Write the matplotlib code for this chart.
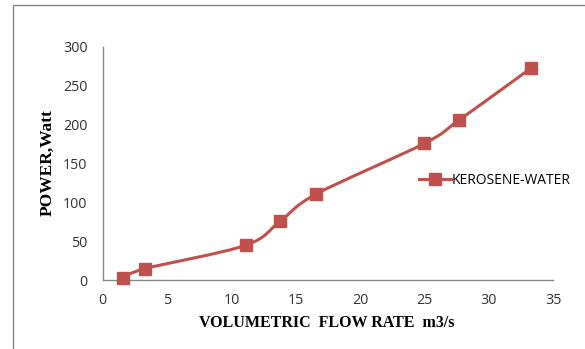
import matplotlib
matplotlib.use("Agg")
import matplotlib.pyplot as plt
import numpy as np
from matplotlib.lines import Line2D
from matplotlib.patches import PathPatch, Rectangle
from matplotlib.path import Path

# measured flow rate vs. pump power
flow_rate = [1.6, 3.3, 11.1, 13.8, 16.6, 25.0, 27.7, 33.3]
power = [3, 15, 45, 76, 111, 176, 206, 273]
series_name = "KEROSENE-WATER"

x_ticks = [0, 5, 10, 15, 20, 25, 30, 35]
y_ticks = [0, 50, 100, 150, 200, 250, 300]

RED = "#C0504D"
AXIS_GREY = "#868686"
TICK_FONT = "Open Sans"
TITLE_FONT = "Liberation Serif"


def smooth_path(xs, ys):
    """Catmull-Rom style bezier through the points (like a spreadsheet smoothed line)."""
    pts = np.column_stack([xs, ys]).astype(float)
    padded = np.vstack([pts[0], pts, pts[-1]])
    verts = [pts[0]]
    codes = [Path.MOVETO]
    for i in range(1, len(padded) - 2):
        p0, p1, p2, p3 = padded[i - 1], padded[i], padded[i + 1], padded[i + 2]
        c1 = p1 + (p2 - p0) / 6.0
        c2 = p2 - (p3 - p1) / 6.0
        verts += [c1, c2, p2]
        codes += [Path.CURVE4] * 3
    return Path(verts, codes)


fig = plt.figure(figsize=(5.85, 3.49), dpi=100)
fig.patch.set_facecolor("white")

# outer chart frame (only the left and top edges fall inside the image)
fig.patches.append(Rectangle((13 / 585, -0.1), 1.0, (349 - 5) / 349 + 0.1,
                             transform=fig.transFigure, fill=False,
                             edgecolor=AXIS_GREY, linewidth=1.0))

ax = fig.add_axes([102.7 / 585, (349 - 280.3) / 349, (553 - 102.7) / 585, (280.3 - 47) / 349])

ax.add_patch(PathPatch(smooth_path(flow_rate, power), facecolor="none",
                       edgecolor=RED, linewidth=2.2, capstyle="round", zorder=2))
ax.plot(flow_rate, power, linestyle="none", marker="s", markersize=8,
        color=RED, zorder=3, clip_on=False)

ax.set_xlim(0, 35)
ax.set_ylim(0, 300)
ax.set_xticks(x_ticks)
ax.set_yticks(y_ticks)
ax.tick_params(length=0, labelsize=10.3, labelcolor="#333333")
ax.tick_params(axis="x", pad=9)
ax.tick_params(axis="y", pad=11)
for lbl in ax.get_xticklabels() + ax.get_yticklabels():
    lbl.set_fontfamily(TICK_FONT)

for side in ("top", "right"):
    ax.spines[side].set_visible(False)
for side in ("left", "bottom"):
    ax.spines[side].set_color(AXIS_GREY)
    ax.spines[side].set_linewidth(1.0)

fig.text(327 / 585, 1 - 323 / 349, "VOLUMETRIC  FLOW RATE  m3/s", ha="center", va="center",
         fontsize=11.5, fontweight="bold", family=TITLE_FONT)
fig.text(48 / 585, 1 - 163 / 349, "POWER,Watt", ha="center", va="center", rotation=90,
         fontsize=12.5, fontweight="bold", family=TITLE_FONT)

handle = Line2D([], [], color=RED, linewidth=2.2, marker="s", markersize=8)
fig.legend([handle], [series_name], loc="center left",
           bbox_to_anchor=(413 / 585, 1 - 180 / 349), frameon=False,
           handlelength=2.3, handletextpad=0.1, borderaxespad=0,
           prop={"family": TICK_FONT, "size": 10})

fig.savefig("out.png", dpi=100)
